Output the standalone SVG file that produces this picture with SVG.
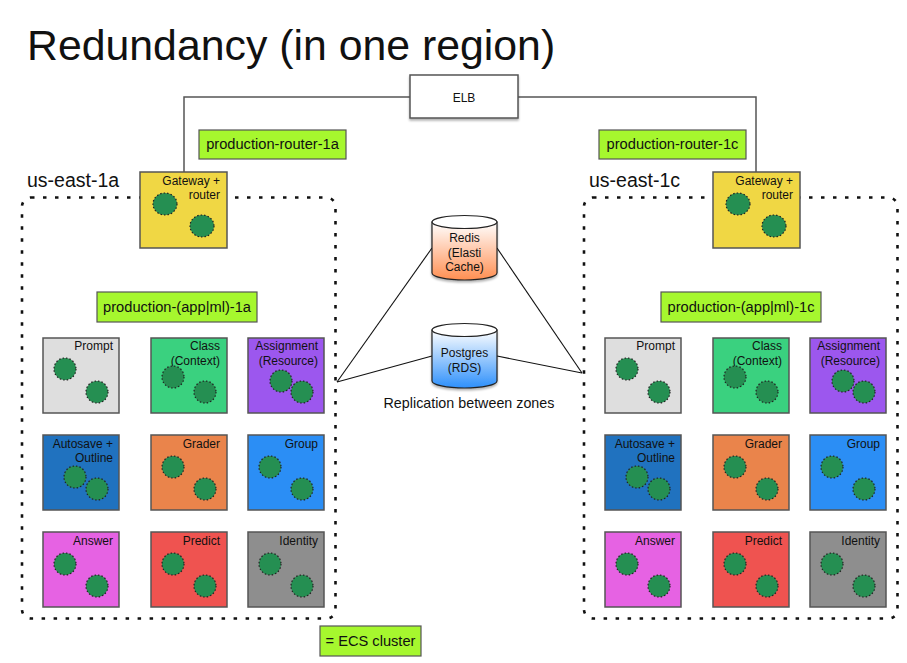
<svg xmlns="http://www.w3.org/2000/svg" width="907" height="663" viewBox="0 0 907 663">
<style>
text{font-family:"Liberation Sans",Arial,sans-serif;fill:#111}
.t{font-size:12px;text-anchor:end}
.c{font-size:12px;text-anchor:middle}
.b{stroke:#555;stroke-width:1.5}
.g{fill:#a6f72e;stroke:#555;stroke-width:1.2}
.gt{font-size:14.650px;text-anchor:middle}
.z{font-size:19.500px}
.e{fill:#258f52;stroke:#222;stroke-width:1.2;stroke-dasharray:1.5 2}
.zone{fill:none;stroke:#111;stroke-width:2.6;stroke-dasharray:3.5 8.5}
.l{fill:none;stroke:#111;stroke-width:1.1}
.w{fill:none;stroke:#555;stroke-width:1.5}
.cy{stroke:#222;stroke-width:1.2}
</style>
<defs>
<linearGradient id="rg" x1="0" y1="0" x2="0" y2="1"><stop offset="0" stop-color="#fff"/><stop offset="1" stop-color="#ff8f52"/></linearGradient>
<linearGradient id="bg" x1="0" y1="0" x2="0" y2="1"><stop offset="0" stop-color="#fff"/><stop offset="1" stop-color="#2e90fb"/></linearGradient>
<filter id="s" x="-10%" y="-10%" width="120%" height="125%"><feDropShadow dx="0" dy="2" stdDeviation="1.2" flood-color="#000" flood-opacity=".3"/></filter>
</defs>
<rect width="907" height="663" fill="#fff"/>
<text id="title" x="27" y="60" font-size="42.800">Redundancy (in one region)</text>

<g id="zones">
<rect id="zone-1a" class="zone" x="22" y="197.500" width="313.500" height="421" rx="9"/>
<rect id="zone-1c" class="zone" x="584" y="197.500" width="313.500" height="421" rx="9"/>
<text class="z" x="27" y="187">us-east-1a</text>
<text class="z" x="589" y="187">us-east-1c</text>
</g>

<g id="connectors">
<path class="w" d="M410 97H184V172"/>
<path class="w" d="M518 97H756V172"/>
<path class="l" d="M432 248L337 382"/>
<path class="l" d="M432 356L337 382"/>
<path class="l" d="M497 248L582 373"/>
<path class="l" d="M497 356L582 373"/>
</g>

<g id="elb"><rect class="b" x="410" y="75" width="108" height="43" fill="#fff" filter="url(#s)"/><text class="c" x="464" y="102">ELB</text></g>

<g id="redis">
<path class="cy" filter="url(#s)" fill="url(#rg)" d="M432 222V273A32.500 7 0 0 0 497 273V222Z"/>
<ellipse class="cy" cx="464.500" cy="222" rx="32.500" ry="6.500" fill="#fff"/>
<text class="c" x="464.500" y="242">Redis</text><text class="c" x="464.500" y="256.500">(Elasti</text><text class="c" x="464.500" y="271">Cache)</text>
</g>
<g id="postgres">
<path class="cy" filter="url(#s)" fill="url(#bg)" d="M432 330V381A32.500 7 0 0 0 497 381V330Z"/>
<ellipse class="cy" cx="464.500" cy="330" rx="32.500" ry="6.500" fill="#fff"/>
<text class="c" x="464.500" y="357">Postgres</text><text class="c" x="464.500" y="371.500">(RDS)</text>
</g>
<text id="replication" x="469" y="408" font-size="14.300" text-anchor="middle">Replication between zones</text>

<g id="label-router-1a"><rect class="g" x="199" y="130" width="147" height="29"/><text class="gt" x="272.500" y="149">production-router-1a</text></g>
<g id="label-router-1c"><rect class="g" x="599" y="130" width="147" height="29"/><text class="gt" x="672.500" y="149">production-router-1c</text></g>
<g id="label-app-1a"><rect class="g" x="97" y="292" width="160" height="30"/><text class="gt" x="177" y="312">production-(app|ml)-1a</text></g>
<g id="label-app-1c"><rect class="g" x="661" y="292" width="160" height="30"/><text class="gt" x="741" y="312">production-(app|ml)-1c</text></g>
<g id="label-ecs"><rect class="g" x="320" y="626" width="101" height="30"/><text class="gt" x="370.500" y="646">= ECS cluster</text></g>

<g id="gateway-1a"><rect class="b" x="140" y="172" width="87" height="76" fill="#f0d744"/><text class="t" x="220" y="185">Gateway +</text><text class="t" x="220" y="199">router</text><ellipse class="e" cx="165" cy="204" rx="12" ry="11"/><ellipse class="e" cx="202" cy="226" rx="12" ry="11"/></g>
<g id="gateway-1c"><rect class="b" x="713" y="172" width="87" height="76" fill="#f0d744"/><text class="t" x="793" y="185">Gateway +</text><text class="t" x="793" y="199">router</text><ellipse class="e" cx="738" cy="204" rx="12" ry="11"/><ellipse class="e" cx="774" cy="226" rx="12" ry="11"/></g>

<g id="prompt-1a"><rect class="b" x="43" y="338" width="76" height="75" fill="#dedede"/><text class="t" x="113" y="350">Prompt</text><circle class="e" cx="65" cy="369" r="11"/><circle class="e" cx="97" cy="392" r="11"/></g>
<g id="class-1a"><rect class="b" x="151" y="338" width="76" height="75" fill="#3ad17f"/><text class="t" x="220" y="350">Class</text><text class="t" x="220" y="365">(Context)</text><circle class="e" cx="173" cy="377" r="11"/><circle class="e" cx="205" cy="392" r="11"/></g>
<g id="assignment-1a"><rect class="b" x="248" y="338" width="76" height="75" fill="#9c57ee"/><text class="t" x="318" y="350">Assignment</text><text class="t" x="318" y="365">(Resource)</text><circle class="e" cx="281" cy="381" r="11"/><circle class="e" cx="302" cy="392" r="11"/></g>
<g id="autosave-1a"><rect class="b" x="43" y="435" width="76" height="75" fill="#2072bf"/><text class="t" x="113" y="448">Autosave +</text><text class="t" x="113" y="462">Outline</text><circle class="e" cx="75" cy="477" r="11"/><circle class="e" cx="97" cy="489" r="11"/></g>
<g id="grader-1a"><rect class="b" x="151" y="435" width="76" height="75" fill="#ea844b"/><text class="t" x="220" y="448">Grader</text><circle class="e" cx="173" cy="467" r="11"/><circle class="e" cx="205" cy="489" r="11"/></g>
<g id="group-1a"><rect class="b" x="248" y="435" width="76" height="75" fill="#2b8ef5"/><text class="t" x="318" y="448">Group</text><circle class="e" cx="270" cy="467" r="11"/><circle class="e" cx="302" cy="489" r="11"/></g>
<g id="answer-1a"><rect class="b" x="43" y="532" width="76" height="75" fill="#e662e3"/><text class="t" x="113" y="545">Answer</text><circle class="e" cx="65" cy="564" r="11"/><circle class="e" cx="97" cy="586" r="11"/></g>
<g id="predict-1a"><rect class="b" x="151" y="532" width="76" height="75" fill="#ef5350"/><text class="t" x="220" y="545">Predict</text><circle class="e" cx="173" cy="564" r="11"/><circle class="e" cx="205" cy="586" r="11"/></g>
<g id="identity-1a"><rect class="b" x="248" y="532" width="76" height="75" fill="#8e8e8e"/><text class="t" x="318" y="545">Identity</text><circle class="e" cx="270" cy="564" r="11"/><circle class="e" cx="302" cy="586" r="11"/></g>

<g id="prompt-1c"><rect class="b" x="605" y="338" width="76" height="75" fill="#dedede"/><text class="t" x="675" y="350">Prompt</text><circle class="e" cx="627" cy="369" r="11"/><circle class="e" cx="659" cy="392" r="11"/></g>
<g id="class-1c"><rect class="b" x="713" y="338" width="76" height="75" fill="#3ad17f"/><text class="t" x="782" y="350">Class</text><text class="t" x="782" y="365">(Context)</text><circle class="e" cx="735" cy="377" r="11"/><circle class="e" cx="767" cy="392" r="11"/></g>
<g id="assignment-1c"><rect class="b" x="810" y="338" width="76" height="75" fill="#9c57ee"/><text class="t" x="880" y="350">Assignment</text><text class="t" x="880" y="365">(Resource)</text><circle class="e" cx="843" cy="381" r="11"/><circle class="e" cx="864" cy="392" r="11"/></g>
<g id="autosave-1c"><rect class="b" x="605" y="435" width="76" height="75" fill="#2072bf"/><text class="t" x="675" y="448">Autosave +</text><text class="t" x="675" y="462">Outline</text><circle class="e" cx="637" cy="477" r="11"/><circle class="e" cx="659" cy="489" r="11"/></g>
<g id="grader-1c"><rect class="b" x="713" y="435" width="76" height="75" fill="#ea844b"/><text class="t" x="782" y="448">Grader</text><circle class="e" cx="735" cy="467" r="11"/><circle class="e" cx="767" cy="489" r="11"/></g>
<g id="group-1c"><rect class="b" x="810" y="435" width="76" height="75" fill="#2b8ef5"/><text class="t" x="880" y="448">Group</text><circle class="e" cx="832" cy="467" r="11"/><circle class="e" cx="864" cy="489" r="11"/></g>
<g id="answer-1c"><rect class="b" x="605" y="532" width="76" height="75" fill="#e662e3"/><text class="t" x="675" y="545">Answer</text><circle class="e" cx="627" cy="564" r="11"/><circle class="e" cx="659" cy="586" r="11"/></g>
<g id="predict-1c"><rect class="b" x="713" y="532" width="76" height="75" fill="#ef5350"/><text class="t" x="782" y="545">Predict</text><circle class="e" cx="735" cy="564" r="11"/><circle class="e" cx="767" cy="586" r="11"/></g>
<g id="identity-1c"><rect class="b" x="810" y="532" width="76" height="75" fill="#8e8e8e"/><text class="t" x="880" y="545">Identity</text><circle class="e" cx="832" cy="564" r="11"/><circle class="e" cx="864" cy="586" r="11"/></g>
</svg>
